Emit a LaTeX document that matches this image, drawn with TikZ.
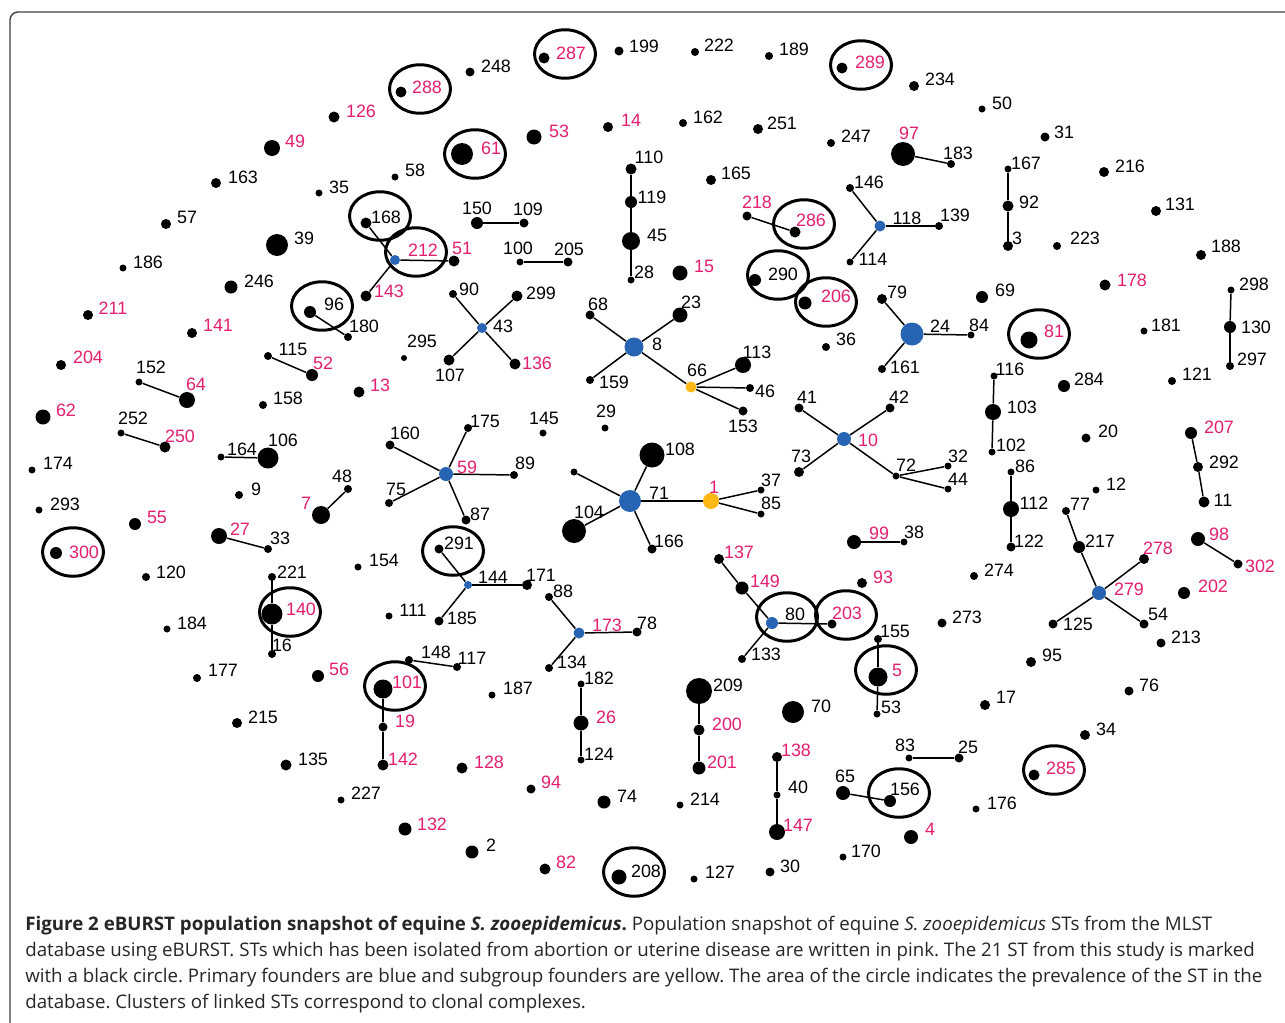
\documentclass[tikz,border=0pt]{standalone}
\usepackage{fontspec}
\setmainfont{Liberation Sans}
\newfontfamily\capfont{Open Sans}
\usetikzlibrary{shapes.geometric}
\definecolor{pk}{RGB}{228,30,112}
\definecolor{fb}{RGB}{40,100,180}
\definecolor{fy}{RGB}{253,184,19}
\frenchspacing
\begin{document}
\begin{tikzpicture}[x=0.02cm,y=-0.02cm,
 std/.style={circle,fill=black,draw=none,inner sep=0pt,minimum size={#1*0.04cm}},
 bstd/.style={std=#1,fill=fb},
 ystd/.style={std=#1,fill=fy},
 lnk/.style={line width=0.85pt,black},
 ring/.style={ellipse,draw=black,line width=1.7pt,inner sep=0pt,minimum width=1.22cm,minimum height=0.97cm},
 lb/.style={inner sep=0pt,font=\fontsize{10.2}{12}\selectfont,text=black},
 lbp/.style={lb,text=pk},
 captxt/.style={inner sep=0pt,anchor=base west,font=\capfont\fontsize{10.65}{12}\selectfont,text=black!85},
 frm/.style={draw=black!75,line width=0.8pt,rounded corners=0.16cm}]
\useasboundingbox (0,0) rectangle (1285,1022);
\clip (0,0) rectangle (1285,1022);
\fill[white] (0,0) rectangle (1285,1022);
\draw[frm] (10,12) rectangle (1320,1060);

% rings (STs from this study)
\foreach \t/\x/\y in {288/420/89, 287/565/54, 289/861/65, 61/475/154, 168/380/216, 212/416/252,
  96/322/306, 286/804/224, 290/778/275, 206/826/302, 81/1039/334, 300/73/552, 140/290/612,
  291/453/551, 101/395/686, 80/787/617, 203/846/615, 5/886/670, 285/1054/770, 156/899/793, 208/634/872}
  \node[ring] (r\t) at (\x,\y) {};

% black dots
\foreach \t/\x/\y/\r in {248/470/72/4.5, 199/619/51/4.5, 222/695/52/4, 189/769/56/4, 234/914/86/5,
  50/982/109/3.5, 31/1045/137/4.5, 163/216/183/5, 57/166/224/5, 186/123/268/3.5, 35/319/193/3.5,
  58/395/177/3.5, 39/277/245/11, 246/231/287/6.5, 168/366/223/5.5, 96/310/312/6, 180/348/337/4,
  295/404/358/3, 115/268/356/4, 158/263/405/4, 152/139/382/3.5, 252/121/433/3.5, 174/32/470/3.5,
  293/39/510/3.5, 120/146/577/4, 184/167/629/3.5, 177/197/678/4, 215/237/723/5, 135/286/765/5.5,
  227/341/800/3.5, 164/221/457/3.5, 106/268/458/10.5, 9/239/495/4, 33/268/549/4, 48/348/489/4,
  221/272/577/4, 16/272/654/4, 154/358/567/3.5, 111/389/616/3.5, 148/409/660/4, 117/457/667/4,
  160/390/445/4.5, 175/468/428/4, 89/514/475/4, 75/389/503/4, 87/466/520/4.5, 291/439/549/4.5,
  171/527/585/5, 185/439/621/4.5, 88/549/597/4, 78/637/632/4.5, 134/549/668/4, 187/492/695/3.5,
  182/581/684/3.5, 124/581/760/3.5, 74/604/802/6.5, 214/680/805/3.5, 2/472/852/6.5, 208/619/877/7.5,
  127/694/879/3.5, 30/770/872/4.5, 145/543/433/3.5, 29/605/428/3.5, 108/652/455/12.5, X/574/472/3.5,
  104/574/531/12, 166/652/549/4.5, 37/761/490/3.5, 85/761/514/3.5, 133/742/659/4, 209/699/691/13,
  70/793/712/11, 40/777/795/3.5, 65/843/793/7, 156/890/801/6, 170/843/857/3.5, 83/909/758/3.5,
  25/959/758/4.5, 176/976/809/3.5, 155/878/639/4, 53b/877/714/3.5, 38/904/542/3.5, 41/799/408/4.5,
  42/890/408/4.5, 73/799/472/5, 72/896/476/3.5, 32/948/466/3.5, 44/948/489/3.5, 274/974/576/4,
  273/942/623/4.5, 95/1031/662/5, 17/985/705/5, 34/1085/735/5, 76/1129/691/4.5, 213/1161/643/4.5,
  54/1144/624/4.5, 125/1053/624/4.5, 217/1079/547/6, 77/1066/511/4, 12/1096/490/3.5, 292/1198/467/5,
  11/1204/502/5.5, 86/1011/472/3.5, 112/1011/509/8, 122/1011/547/4.5, 20/1086/438/4.5, 116/994/376/3.5,
  103/993/412/8, 102/992/452/3.5, 284/1064/386/6, 121/1172/381/4, 181/1144/331/3.5, 298/1231/290/3.5,
  130/1230/327/6, 297/1230/366/4, 188/1201/255/5, 131/1156/211/5, 216/1104/172/5, 223/1057/246/4,
  167/1008/169/3.5, 92/1008/206/5.5, 3/1008/246/5, 69/982/297/6, 79/882/299/5, 84/971/335/3.5,
  161/882/369/4, 146/850/188/4, 139/939/226/4, 114/850/262/3.5, 183/951/164/4, 247/831/143/4,
  251/758/129/5, 162/683/123/4, 165/711/180/5, 110/631/169/5.5, 119/631/202/6, 45/631/241/9,
  28/631/280/3.5, 150/477/223/6, 109/524/223/4.5, 100/520/262/3.5, 205/568/262/4.5, 90/453/294/4,
  299/517/296/5.5, 107/449/360/5.5, 68/590/315/4.5, 23/680/315/7.5, 159/590/380/4, 113/743/365/8,
  46/750/388/4, 153/743/411/4.5, 290/755/280/6, 36/826/347/4,
  288/401/92/5.5, 287/544/58/5.5, 289/842/68/5.5, 126/334/117/5.5, 49/272/148/8, 61/462/154/11,
  53/534/137/7.5, 14/608/127/5, 97/903/154/12, 211/88/315/5, 204/61/365/5, 62/43/417/7.5,
  141/192/333/5, 64/187/400/8, 250/165/447/5.5, 143/366/296/5.5, 51/454/261/5.5, 52/312/375/6,
  13/359/392/5.5, 136/515/364/5.5, 15/680/273/7.5, 218/747/216/4.5, 286/795/232/5.5, 206/805/303/6.5,
  178/1105/285/5.5, 81/1029/340/8.5, 207/1191/433/6, 55/135/524/6, 300/56/553/6, 27/219/536/8,
  7/321/515/9, 140/272/614/10.5, 56/318/676/6, 101/383/689/9.5, 19/383/727/4.5, 142/383/765/5.5,
  132/405/829/6.5, 128/462/768/5.5, 94/531/789/4.5, 82/545/869/5.5, 26/581/723/7.5, 200/699/730/5.5,
  201/699/768/6.5, 137/719/559/5, 149/742/588/6.5, 203/832/624/4.5, 99/854/542/7, 93/862/583/5,
  5/878/677/9.5, 138/777/757/5, 147/777/832/8, 4/911/837/7, 285/1034/775/5.5, 98/1198/539/7,
  302/1238/564/4.5, 202/1184/593/6, 278/1144/559/5}
  \node[std=\r] (n\t) at (\x,\y) {};

% primary founders (blue)
\foreach \t/\x/\y/\r in {212/395/260/5, 43/482/328/5, 8/634/347/9.5, 118/880/226/5.5, 24/912/334/11.5,
  10/844/439/7, 59/446/474/7, 71/630/501/11, 144/468/585/4, 173/579/633/5.5, 80/772/623/6, 279/1099/593/7}
  \node[bstd=\r] (n\t) at (\x,\y) {};

% subgroup founders (yellow)
\foreach \t/\x/\y/\r in {66/691/387/5.5, 1/711/501/8}
  \node[ystd=\r] (n\t) at (\x,\y) {};

% links
\foreach \a/\b in {168/212, 212/51, 212/143, 96/180, 115/52, 152/64, 252/250, 164/106, 150/109,
  100/205, 110/119, 119/45, 45/28, 43/90, 43/299, 43/107, 43/136, 8/68, 8/23, 8/159, 8/66, 66/113,
  66/46, 66/153, 218/286, 97/183, 118/146, 118/139, 118/114, 167/92, 92/3, 298/130, 130/297, 24/79,
  24/84, 24/161, 116/103, 103/102, 10/41, 10/42, 10/73, 10/72, 72/32, 72/44, 207/292, 292/11, 86/112,
  112/122, 77/217, 217/279, 279/278, 279/125, 279/54, 98/302, 99/38, 59/160, 59/175, 59/89, 59/75,
  59/87, 71/108, 71/X, 71/104, 71/166, 71/1, 1/37, 1/85, 144/291, 144/171, 144/185, 173/88, 173/78,
  173/134, 148/117, 221/140, 140/16, 27/33, 7/48, 101/19, 19/142, 182/26, 26/124, 209/200, 200/201,
  137/149, 149/80, 80/203, 80/133, 155/5, 5/53b, 138/40, 40/147, 83/25, 65/156}
  \draw[lnk] (n\a) -- (n\b);

% black labels
\foreach \t/\x/\y in {248/496/66, 199/644/46, 222/719/45, 189/794/49, 234/940/79, 50/1002/103,
  31/1064/132, 163/243/177, 57/187/217, 186/148/262, 35/339/187, 58/415/170, 39/304/238, 246/259/281,
  168/386/217, 96/334/304, 180/364/326, 295/422/341, 115/293/349, 158/288/398, 152/151/367,
  252/133/418, 174/58/463, 293/65/504, 120/171/572, 184/192/623, 177/223/670, 215/263/717,
  135/313/759, 227/366/793, 164/242/449, 106/283/440, 9/256/489, 33/280/538, 48/342/476,
  221/292/572, 16/282/645, 154/384/560, 111/413/610, 148/436/652, 117/472/658, 160/405/433,
  175/485/421, 89/525/463, 75/396/489, 87/480/514, 291/459/543, 144/493/577, 171/541/575,
  185/462/618, 88/563/591, 78/647/623, 134/572/662, 187/518/688, 182/599/678, 124/599/754,
  74/627/796, 214/705/799, 2/491/845, 208/646/871, 127/720/872, 30/790/866, 145/544/418, 29/606/411,
  108/680/449, 71/659/493, 104/589/512, 166/669/541, 37/771/480, 85/771/503, 80/795/614, 133/766/654,
  209/728/685, 70/821/706, 40/798/787, 65/845/776, 156/905/789, 170/866/851, 83/905/745, 25/968/747,
  176/1002/803, 155/895/631, 38/914/532, 41/807/397, 42/899/397, 73/801/456, 72/906/465,
  32/958/456, 44/958/479, 274/999/570, 273/967/617, 95/1052/655, 17/1006/697, 34/1106/729,
  76/1149/685, 213/1186/637, 54/1158/614, 125/1078/624, 217/1100/541, 77/1080/504, 12/1116/484,
  292/1224/462, 11/1223/500, 86/1025/466, 112/1034/503, 122/1029/541, 20/1108/431, 116/1010/369,
  103/1022/407, 102/1011/445, 284/1089/379, 121/1197/374, 181/1166/325, 298/1254/284, 130/1256/327,
  297/1252/359, 188/1226/246, 131/1180/204, 216/1130/166, 223/1085/238, 167/1026/163, 92/1029/202,
  3/1017/238, 69/1005/290, 24/940/326, 84/979/325, 79/897/292, 161/905/367, 118/907/218,
  139/955/215, 146/869/182, 114/873/259, 183/958/153, 247/856/136, 251/782/123, 162/708/117,
  165/736/173, 110/649/157, 119/652/197, 45/657/235, 28/644/272, 150/477/208, 109/528/209,
  100/518/248, 205/569/249, 90/469/289, 299/541/293, 43/503/326, 107/450/375, 68/598/304,
  23/691/302, 8/657/344, 159/614/382, 66/697/370, 113/757/352, 46/765/391, 153/743/426,
  290/783/274, 36/846/339}
  \node[lb] (l\t) at (\x,\y) {\t};
\node[lb] (l53b) at (891,707) {53};

% pink labels (abortion / uterine disease)
\foreach \t/\x/\y in {288/427/87, 287/571/53, 289/870/62, 126/361/111, 49/295/141, 61/491/148,
  53/559/131, 14/631/120, 97/909/133, 211/113/308, 204/88/357, 62/66/410, 141/218/325, 64/196/384,
  250/180/436, 143/389/291, 51/462/248, 212/423/250, 52/323/363, 13/380/385, 136/537/363,
  15/704/266, 218/757/202, 286/811/220, 206/836/296, 178/1132/280, 81/1054/331, 207/1219/427,
  55/157/517, 300/84/552, 27/240/529, 7/306/503, 140/301/609, 56/339/669, 101/407/682, 19/405/721,
  142/403/759, 132/432/824, 128/489/762, 94/551/782, 82/566/862, 26/606/717, 200/727/724,
  201/722/762, 137/739/552, 149/765/581, 203/847/613, 99/879/533, 93/883/577, 5/897/670,
  138/796/750, 147/798/825, 4/930/829, 285/1061/768, 98/1219/534, 302/1260/566, 202/1213/586,
  278/1158/548, 10/868/440, 59/467/467, 173/607/625, 279/1129/589, 1/714/487}
  \node[lbp] (l\t) at (\x,\y) {\t};

% caption
\node[captxt] (c1) at (25,930) {\textbf{Figure 2 eBURST population snapshot of equine \textit{S. zooepidemicus}.} Population snapshot of equine \textit{S. zooepidemicus} STs from the MLST};
\node[captxt] (c2) at (25,956) {database using eBURST. STs which has been isolated from abortion or uterine disease are written in pink. The 21 ST from this study is marked};
\node[captxt] (c3) at (25,982) {with a black circle. Primary founders are blue and subgroup founders are yellow. The area of the circle indicates the prevalence of the ST in the};
\node[captxt] (c4) at (25,1008) {database. Clusters of linked STs correspond to clonal complexes.};
\end{tikzpicture}
\end{document}
